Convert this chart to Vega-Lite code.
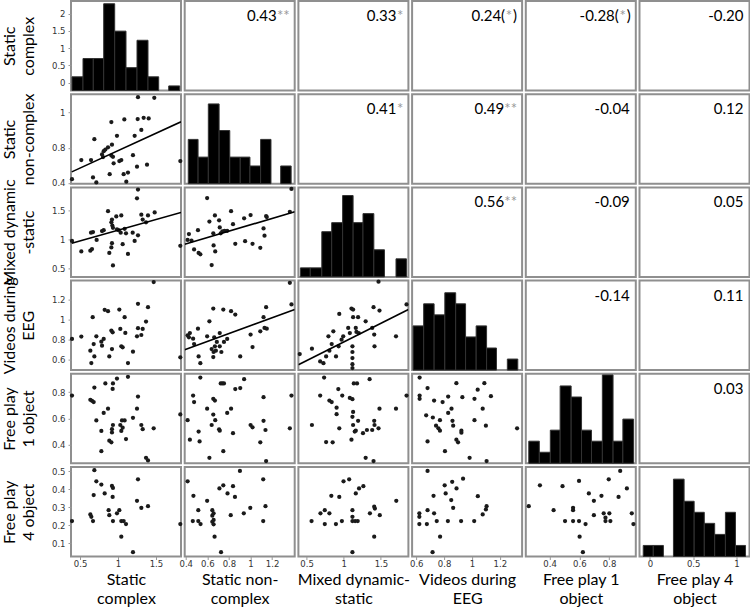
{
"$schema": "https://vega.github.io/schema/vega-lite/v6.json",
"padding": {"left": 0, "top": 0, "right": 0, "bottom": 0},
"background": "white",
"config": {
  "view": {"stroke": "#8f8f8f", "strokeWidth": 2},
  "axis": {"labelFont": "DejaVu Sans", "labelFontSize": 8.5, "labelColor": "#333", "tickColor": "#999", "tickSize": 3, "domain": false, "grid": false, "titleFont": "Lato", "titleFontSize": 16, "titleFontWeight": "normal", "titleColor": "#000", "labelOverlap": false, "titleLineHeight": 19},
  "axisX": {"labelPadding": 0, "titlePadding": 3},
  "axisY": {"labelPadding": 3, "titlePadding": 15},
  "circle": {"size": 18, "color": "#1a1a1a", "opacity": 1}
},
"datasets": {
"hist": [
{"p":"r1c1","x0":0.393,"x1":0.538,"n":3},{"p":"r1c1","x0":0.538,"x1":0.674,"n":7},{"p":"r1c1","x0":0.674,"x1":0.811,"n":7},{"p":"r1c1","x0":0.811,"x1":0.956,"n":19},{"p":"r1c1","x0":0.956,"x1":1.105,"n":13},{"p":"r1c1","x0":1.105,"x1":1.25,"n":5},{"p":"r1c1","x0":1.25,"x1":1.395,"n":11},{"p":"r1c1","x0":1.395,"x1":1.536,"n":3},{"p":"r1c1","x0":1.668,"x1":1.813,"n":1},
{"p":"r2c2","x0":0.423,"x1":0.514,"n":5},{"p":"r2c2","x0":0.514,"x1":0.609,"n":3},{"p":"r2c2","x0":0.609,"x1":0.709,"n":9},{"p":"r2c2","x0":0.709,"x1":0.808,"n":6},{"p":"r2c2","x0":0.808,"x1":0.905,"n":3},{"p":"r2c2","x0":0.905,"x1":0.995,"n":3},{"p":"r2c2","x0":0.995,"x1":1.094,"n":2},{"p":"r2c2","x0":1.094,"x1":1.19,"n":5},{"p":"r2c2","x0":1.28,"x1":1.377,"n":2},
{"p":"r3c3","x0":0.417,"x1":0.55,"n":1},{"p":"r3c3","x0":0.55,"x1":0.705,"n":1},{"p":"r3c3","x0":0.705,"x1":0.838,"n":5},{"p":"r3c3","x0":0.838,"x1":0.985,"n":6},{"p":"r3c3","x0":0.985,"x1":1.126,"n":9},{"p":"r3c3","x0":1.126,"x1":1.259,"n":6},{"p":"r3c3","x0":1.259,"x1":1.405,"n":7},{"p":"r3c3","x0":1.405,"x1":1.548,"n":3},{"p":"r3c3","x0":1.703,"x1":1.844,"n":2},
{"p":"r4c4","x0":0.577,"x1":0.653,"n":4},{"p":"r4c4","x0":0.653,"x1":0.728,"n":6},{"p":"r4c4","x0":0.728,"x1":0.805,"n":5},{"p":"r4c4","x0":0.805,"x1":0.883,"n":7},{"p":"r4c4","x0":0.883,"x1":0.954,"n":6},{"p":"r4c4","x0":0.954,"x1":1.03,"n":3},{"p":"r4c4","x0":1.03,"x1":1.105,"n":4},{"p":"r4c4","x0":1.105,"x1":1.176,"n":2},{"p":"r4c4","x0":1.254,"x1":1.329,"n":1},
{"p":"r5c5","x0":0.26,"x1":0.331,"n":2},{"p":"r5c5","x0":0.331,"x1":0.405,"n":1},{"p":"r5c5","x0":0.405,"x1":0.471,"n":3},{"p":"r5c5","x0":0.471,"x1":0.545,"n":7},{"p":"r5c5","x0":0.545,"x1":0.615,"n":6},{"p":"r5c5","x0":0.615,"x1":0.682,"n":3},{"p":"r5c5","x0":0.682,"x1":0.755,"n":2},{"p":"r5c5","x0":0.755,"x1":0.827,"n":8},{"p":"r5c5","x0":0.827,"x1":0.893,"n":2},{"p":"r5c5","x0":0.893,"x1":0.965,"n":4},
{"p":"r6c6","x0":-0.077,"x1":0.039,"n":1},{"p":"r6c6","x0":0.039,"x1":0.156,"n":1},{"p":"r6c6","x0":0.272,"x1":0.395,"n":7},{"p":"r6c6","x0":0.395,"x1":0.511,"n":5},{"p":"r6c6","x0":0.511,"x1":0.628,"n":4},{"p":"r6c6","x0":0.628,"x1":0.748,"n":3},{"p":"r6c6","x0":0.748,"x1":0.872,"n":2},{"p":"r6c6","x0":0.872,"x1":0.988,"n":4},{"p":"r6c6","x0":0.988,"x1":1.104,"n":1}
],
"lines": [
{"p":"r2c1","x":0.39,"y":0.525},{"p":"r2c1","x":1.83,"y":1.096},
{"p":"r3c1","x":0.39,"y":0.934},{"p":"r3c1","x":1.83,"y":1.466},
{"p":"r3c2","x":0.39,"y":0.915},{"p":"r3c2","x":1.41,"y":1.478},
{"p":"r4c2","x":0.39,"y":0.695},{"p":"r4c2","x":1.41,"y":1.099},
{"p":"r4c3","x":0.39,"y":0.544},{"p":"r4c3","x":1.87,"y":1.1}
],
"corr": [
{"p":"r1c2","num":"0.43","star":"**","close":""},{"p":"r1c3","num":"0.33","star":"*","close":""},{"p":"r1c4","num":"0.24(","star":"*","close":")"},{"p":"r1c5","num":"-0.28(","star":"*","close":")"},{"p":"r1c6","num":"-0.20","star":"","close":""},
{"p":"r2c3","num":"0.41","star":"*","close":""},{"p":"r2c4","num":"0.49","star":"**","close":""},{"p":"r2c5","num":"-0.04","star":"","close":""},{"p":"r2c6","num":"0.12","star":"","close":""},
{"p":"r3c4","num":"0.56","star":"**","close":""},{"p":"r3c5","num":"-0.09","star":"","close":""},{"p":"r3c6","num":"0.05","star":"","close":""},
{"p":"r4c5","num":"-0.14","star":"","close":""},{"p":"r4c6","num":"0.11","star":"","close":""},
{"p":"r5c6","num":"0.03","star":"","close":""}
],
"pts": [
{"p":"r2c1","x":0.393,"y":0.442},{"p":"r2c1","x":0.516,"y":0.659},{"p":"r2c1","x":0.644,"y":0.659},{"p":"r2c1","x":0.688,"y":0.898},{"p":"r2c1","x":0.67,"y":0.461},{"p":"r2c1","x":0.714,"y":0.405},{"p":"r2c1","x":0.789,"y":0.723},{"p":"r2c1","x":0.811,"y":0.76},{"p":"r2c1","x":0.833,"y":0.779},{"p":"r2c1","x":0.868,"y":0.805},{"p":"r2c1","x":0.912,"y":1.092},{"p":"r2c1","x":0.92,"y":0.835},{"p":"r2c1","x":0.912,"y":0.711},{"p":"r2c1","x":0.933,"y":0.696},{"p":"r2c1","x":0.942,"y":0.622},{"p":"r2c1","x":0.986,"y":0.936},{"p":"r2c1","x":1.017,"y":0.648},{"p":"r2c1","x":1.043,"y":0.659},{"p":"r2c1","x":1.083,"y":1.122},{"p":"r2c1","x":1.074,"y":0.498},{"p":"r2c1","x":0.89,"y":0.498},{"p":"r2c1","x":1.109,"y":0.413},{"p":"r2c1","x":1.131,"y":0.517},{"p":"r2c1","x":1.197,"y":0.715},{"p":"r2c1","x":1.219,"y":0.936},{"p":"r2c1","x":1.25,"y":0.584},{"p":"r2c1","x":1.259,"y":1.126},{"p":"r2c1","x":1.263,"y":1.376},{"p":"r2c1","x":1.307,"y":1.003},{"p":"r2c1","x":1.338,"y":1.141},{"p":"r2c1","x":1.382,"y":0.607},{"p":"r2c1","x":1.404,"y":1.134},{"p":"r2c1","x":1.478,"y":1.369},{"p":"r2c1","x":1.821,"y":0.648},{"p":"r2c1","x":0.802,"y":0.693},
{"p":"r3c1","x":0.393,"y":0.973},{"p":"r3c1","x":0.516,"y":0.792},{"p":"r3c1","x":0.635,"y":0.803},{"p":"r3c1","x":0.657,"y":0.832},{"p":"r3c1","x":0.644,"y":1.115},{"p":"r3c1","x":0.67,"y":1.126},{"p":"r3c1","x":0.718,"y":0.99},{"p":"r3c1","x":0.789,"y":1.143},{"p":"r3c1","x":0.811,"y":1.16},{"p":"r3c1","x":0.868,"y":1.489},{"p":"r3c1","x":0.885,"y":0.764},{"p":"r3c1","x":0.912,"y":0.86},{"p":"r3c1","x":0.92,"y":0.934},{"p":"r3c1","x":0.912,"y":1.296},{"p":"r3c1","x":0.92,"y":1.342},{"p":"r3c1","x":0.925,"y":1.24},{"p":"r3c1","x":0.933,"y":1.2},{"p":"r3c1","x":0.933,"y":0.548},{"p":"r3c1","x":0.977,"y":1.398},{"p":"r3c1","x":1.043,"y":1.415},{"p":"r3c1","x":1.008,"y":1.16},{"p":"r3c1","x":1.035,"y":1.115},{"p":"r3c1","x":1.061,"y":0.917},{"p":"r3c1","x":1.087,"y":1.183},{"p":"r3c1","x":1.105,"y":1.104},{"p":"r3c1","x":1.131,"y":0.747},{"p":"r3c1","x":1.193,"y":1.115},{"p":"r3c1","x":1.219,"y":0.973},{"p":"r3c1","x":1.263,"y":1.07},{"p":"r3c1","x":1.25,"y":1.71},{"p":"r3c1","x":1.263,"y":1.863},{"p":"r3c1","x":1.307,"y":1.427},{"p":"r3c1","x":1.325,"y":1.342},{"p":"r3c1","x":1.369,"y":1.296},{"p":"r3c1","x":1.395,"y":1.415},{"p":"r3c1","x":1.483,"y":1.466},{"p":"r3c1","x":1.821,"y":0.888},{"p":"r3c1","x":0.986,"y":1.172},
{"p":"r4c1","x":0.393,"y":0.803},{"p":"r4c1","x":0.516,"y":0.827},{"p":"r4c1","x":0.635,"y":0.685},{"p":"r4c1","x":0.648,"y":0.561},{"p":"r4c1","x":0.679,"y":0.752},{"p":"r4c1","x":0.688,"y":0.628},{"p":"r4c1","x":0.666,"y":1.022},{"p":"r4c1","x":0.714,"y":0.83},{"p":"r4c1","x":0.78,"y":0.776},{"p":"r4c1","x":0.789,"y":0.735},{"p":"r4c1","x":0.811,"y":0.803},{"p":"r4c1","x":0.824,"y":1.096},{"p":"r4c1","x":0.868,"y":1.082},{"p":"r4c1","x":0.885,"y":0.628},{"p":"r4c1","x":0.912,"y":0.887},{"p":"r4c1","x":0.929,"y":0.87},{"p":"r4c1","x":0.92,"y":0.702},{"p":"r4c1","x":1.017,"y":1.099},{"p":"r4c1","x":1.03,"y":0.904},{"p":"r4c1","x":1.043,"y":0.729},{"p":"r4c1","x":1.061,"y":0.719},{"p":"r4c1","x":1.087,"y":1.022},{"p":"r4c1","x":1.096,"y":0.864},{"p":"r4c1","x":1.131,"y":0.561},{"p":"r4c1","x":1.197,"y":0.675},{"p":"r4c1","x":1.25,"y":0.83},{"p":"r4c1","x":1.263,"y":1.157},{"p":"r4c1","x":1.263,"y":0.911},{"p":"r4c1","x":1.307,"y":0.843},{"p":"r4c1","x":1.325,"y":0.904},{"p":"r4c1","x":1.369,"y":0.978},{"p":"r4c1","x":1.395,"y":1.123},{"p":"r4c1","x":1.47,"y":1.375},{"p":"r4c1","x":1.821,"y":0.618},
{"p":"r5c1","x":0.393,"y":0.775},{"p":"r5c1","x":0.635,"y":0.742},{"p":"r5c1","x":0.657,"y":0.735},{"p":"r5c1","x":0.679,"y":0.725},{"p":"r5c1","x":0.688,"y":0.835},{"p":"r5c1","x":0.714,"y":0.586},{"p":"r5c1","x":0.78,"y":0.506},{"p":"r5c1","x":0.78,"y":0.352},{"p":"r5c1","x":0.811,"y":0.643},{"p":"r5c1","x":0.833,"y":0.867},{"p":"r5c1","x":0.868,"y":0.675},{"p":"r5c1","x":0.885,"y":0.432},{"p":"r5c1","x":0.912,"y":0.419},{"p":"r5c1","x":0.92,"y":0.494},{"p":"r5c1","x":0.92,"y":0.519},{"p":"r5c1","x":0.929,"y":0.825},{"p":"r5c1","x":0.933,"y":0.551},{"p":"r5c1","x":0.933,"y":0.867},{"p":"r5c1","x":0.986,"y":0.904},{"p":"r5c1","x":1.03,"y":0.551},{"p":"r5c1","x":1.043,"y":0.506},{"p":"r5c1","x":1.052,"y":0.586},{"p":"r5c1","x":1.061,"y":0.531},{"p":"r5c1","x":1.087,"y":0.586},{"p":"r5c1","x":1.105,"y":0.444},{"p":"r5c1","x":1.131,"y":0.917},{"p":"r5c1","x":1.197,"y":0.606},{"p":"r5c1","x":1.25,"y":0.675},{"p":"r5c1","x":1.263,"y":0.767},{"p":"r5c1","x":1.307,"y":0.551},{"p":"r5c1","x":1.325,"y":0.519},{"p":"r5c1","x":1.369,"y":0.302},{"p":"r5c1","x":1.395,"y":0.282},{"p":"r5c1","x":1.47,"y":0.526},{"p":"r5c1","x":1.821,"y":0.631},
{"p":"r6c1","x":0.393,"y":0.223},{"p":"r6c1","x":0.635,"y":0.26},{"p":"r6c1","x":0.648,"y":0.247},{"p":"r6c1","x":0.67,"y":0.223},{"p":"r6c1","x":0.688,"y":0.507},{"p":"r6c1","x":0.679,"y":0.368},{"p":"r6c1","x":0.714,"y":0.445},{"p":"r6c1","x":0.78,"y":0.427},{"p":"r6c1","x":0.824,"y":0.377},{"p":"r6c1","x":0.876,"y":0.284},{"p":"r6c1","x":0.885,"y":0.256},{"p":"r6c1","x":0.92,"y":0.419},{"p":"r6c1","x":0.933,"y":0.408},{"p":"r6c1","x":0.929,"y":0.358},{"p":"r6c1","x":0.933,"y":0.223},{"p":"r6c1","x":0.986,"y":0.266},{"p":"r6c1","x":1.017,"y":0.284},{"p":"r6c1","x":1.043,"y":0.223},{"p":"r6c1","x":1.074,"y":0.223},{"p":"r6c1","x":1.043,"y":0.136},{"p":"r6c1","x":1.105,"y":0.206},{"p":"r6c1","x":1.197,"y":0.049},{"p":"r6c1","x":1.25,"y":0.336},{"p":"r6c1","x":1.263,"y":0.456},{"p":"r6c1","x":1.307,"y":0.297},{"p":"r6c1","x":1.395,"y":0.306},{"p":"r6c1","x":1.821,"y":0.206},
{"p":"r3c2","x":0.417,"y":0.99},{"p":"r3c2","x":0.453,"y":0.979},{"p":"r3c2","x":0.429,"y":1.092},{"p":"r3c2","x":0.477,"y":0.826},{"p":"r3c2","x":0.513,"y":1.16},{"p":"r3c2","x":0.519,"y":0.764},{"p":"r3c2","x":0.535,"y":0.741},{"p":"r3c2","x":0.598,"y":1.716},{"p":"r3c2","x":0.619,"y":1.308},{"p":"r3c2","x":0.64,"y":0.554},{"p":"r3c2","x":0.655,"y":1.104},{"p":"r3c2","x":0.658,"y":0.894},{"p":"r3c2","x":0.67,"y":1.415},{"p":"r3c2","x":0.673,"y":0.792},{"p":"r3c2","x":0.709,"y":1.33},{"p":"r3c2","x":0.715,"y":1.206},{"p":"r3c2","x":0.724,"y":1.104},{"p":"r3c2","x":0.739,"y":1.138},{"p":"r3c2","x":0.76,"y":1.149},{"p":"r3c2","x":0.784,"y":1.149},{"p":"r3c2","x":0.82,"y":1.489},{"p":"r3c2","x":0.838,"y":1.262},{"p":"r3c2","x":0.859,"y":0.922},{"p":"r3c2","x":0.941,"y":1.364},{"p":"r3c2","x":0.95,"y":0.968},{"p":"r3c2","x":1.001,"y":1.421},{"p":"r3c2","x":1.019,"y":0.922},{"p":"r3c2","x":1.091,"y":0.854},{"p":"r3c2","x":1.121,"y":1.189},{"p":"r3c2","x":1.13,"y":1.064},{"p":"r3c2","x":1.145,"y":1.404},{"p":"r3c2","x":1.151,"y":1.387},{"p":"r3c2","x":1.365,"y":1.478},{"p":"r3c2","x":1.38,"y":1.874},
{"p":"r4c2","x":0.417,"y":0.84},{"p":"r4c2","x":0.438,"y":0.863},{"p":"r4c2","x":0.429,"y":0.82},{"p":"r4c2","x":0.468,"y":0.806},{"p":"r4c2","x":0.477,"y":0.752},{"p":"r4c2","x":0.513,"y":0.907},{"p":"r4c2","x":0.519,"y":0.628},{"p":"r4c2","x":0.535,"y":0.56},{"p":"r4c2","x":0.598,"y":0.83},{"p":"r4c2","x":0.619,"y":0.981},{"p":"r4c2","x":0.64,"y":0.702},{"p":"r4c2","x":0.655,"y":1.109},{"p":"r4c2","x":0.655,"y":0.621},{"p":"r4c2","x":0.658,"y":0.672},{"p":"r4c2","x":0.664,"y":0.82},{"p":"r4c2","x":0.67,"y":0.729},{"p":"r4c2","x":0.679,"y":0.685},{"p":"r4c2","x":0.688,"y":0.773},{"p":"r4c2","x":0.715,"y":0.863},{"p":"r4c2","x":0.715,"y":0.729},{"p":"r4c2","x":0.73,"y":0.672},{"p":"r4c2","x":0.748,"y":1.099},{"p":"r4c2","x":0.754,"y":0.773},{"p":"r4c2","x":0.784,"y":0.803},{"p":"r4c2","x":0.82,"y":1.082},{"p":"r4c2","x":0.859,"y":1.049},{"p":"r4c2","x":0.905,"y":0.628},{"p":"r4c2","x":1.001,"y":0.847},{"p":"r4c2","x":1.019,"y":0.722},{"p":"r4c2","x":1.091,"y":0.88},{"p":"r4c2","x":1.121,"y":1.022},{"p":"r4c2","x":1.13,"y":0.914},{"p":"r4c2","x":1.145,"y":1.123},{"p":"r4c2","x":1.151,"y":0.907},{"p":"r4c2","x":1.365,"y":1.368},{"p":"r4c2","x":1.38,"y":1.15},
{"p":"r4c3","x":0.408,"y":0.651},{"p":"r4c3","x":0.572,"y":0.705},{"p":"r4c3","x":0.683,"y":0.577},{"p":"r4c3","x":0.727,"y":0.56},{"p":"r4c3","x":0.763,"y":0.628},{"p":"r4c3","x":0.794,"y":0.83},{"p":"r4c3","x":0.807,"y":0.685},{"p":"r4c3","x":0.86,"y":0.88},{"p":"r4c3","x":0.838,"y":0.752},{"p":"r4c3","x":0.896,"y":0.628},{"p":"r4c3","x":0.931,"y":0.729},{"p":"r4c3","x":0.94,"y":1.055},{"p":"r4c3","x":0.971,"y":0.796},{"p":"r4c3","x":0.993,"y":0.83},{"p":"r4c3","x":1.06,"y":0.914},{"p":"r4c3","x":1.082,"y":0.863},{"p":"r4c3","x":1.104,"y":1.109},{"p":"r4c3","x":1.126,"y":1.099},{"p":"r4c3","x":1.126,"y":1.022},{"p":"r4c3","x":1.117,"y":0.729},{"p":"r4c3","x":1.117,"y":0.672},{"p":"r4c3","x":1.117,"y":0.611},{"p":"r4c3","x":1.117,"y":0.55},{"p":"r4c3","x":1.117,"y":0.51},{"p":"r4c3","x":1.162,"y":0.914},{"p":"r4c3","x":1.171,"y":0.874},{"p":"r4c3","x":1.193,"y":1.022},{"p":"r4c3","x":1.202,"y":0.863},{"p":"r4c3","x":1.295,"y":0.981},{"p":"r4c3","x":1.383,"y":0.914},{"p":"r4c3","x":1.401,"y":1.123},{"p":"r4c3","x":1.41,"y":0.847},{"p":"r4c3","x":1.414,"y":0.729},{"p":"r4c3","x":1.468,"y":1.379},{"p":"r4c3","x":1.481,"y":1.089},{"p":"r4c3","x":1.703,"y":0.83},{"p":"r4c3","x":1.845,"y":1.15},
{"p":"r5c2","x":0.417,"y":0.588},{"p":"r5c2","x":0.438,"y":0.439},{"p":"r5c2","x":0.468,"y":0.775},{"p":"r5c2","x":0.477,"y":0.725},{"p":"r5c2","x":0.519,"y":0.501},{"p":"r5c2","x":0.528,"y":0.426},{"p":"r5c2","x":0.535,"y":0.911},{"p":"r5c2","x":0.598,"y":0.675},{"p":"r5c2","x":0.619,"y":0.302},{"p":"r5c2","x":0.64,"y":0.551},{"p":"r5c2","x":0.655,"y":0.63},{"p":"r5c2","x":0.655,"y":0.75},{"p":"r5c2","x":0.67,"y":0.737},{"p":"r5c2","x":0.673,"y":0.588},{"p":"r5c2","x":0.709,"y":0.518},{"p":"r5c2","x":0.715,"y":0.508},{"p":"r5c2","x":0.724,"y":0.867},{"p":"r5c2","x":0.739,"y":0.867},{"p":"r5c2","x":0.748,"y":0.352},{"p":"r5c2","x":0.754,"y":0.867},{"p":"r5c2","x":0.784,"y":0.643},{"p":"r5c2","x":0.82,"y":0.675},{"p":"r5c2","x":0.838,"y":0.489},{"p":"r5c2","x":0.859,"y":0.824},{"p":"r5c2","x":0.905,"y":0.832},{"p":"r5c2","x":0.941,"y":0.899},{"p":"r5c2","x":1.001,"y":0.551},{"p":"r5c2","x":1.019,"y":0.533},{"p":"r5c2","x":1.091,"y":0.419},{"p":"r5c2","x":1.121,"y":0.762},{"p":"r5c2","x":1.121,"y":0.583},{"p":"r5c2","x":1.139,"y":0.513},{"p":"r5c2","x":1.145,"y":0.277},{"p":"r5c2","x":1.365,"y":0.526},{"p":"r5c2","x":1.38,"y":0.775},
{"p":"r5c3","x":0.572,"y":0.551},{"p":"r5c3","x":0.736,"y":0.911},{"p":"r5c3","x":0.683,"y":0.775},{"p":"r5c3","x":0.807,"y":0.737},{"p":"r5c3","x":0.838,"y":0.725},{"p":"r5c3","x":0.904,"y":0.633},{"p":"r5c3","x":0.927,"y":0.824},{"p":"r5c3","x":0.98,"y":0.775},{"p":"r5c3","x":1.082,"y":0.757},{"p":"r5c3","x":1.117,"y":0.747},{"p":"r5c3","x":0.94,"y":0.526},{"p":"r5c3","x":0.763,"y":0.421},{"p":"r5c3","x":0.851,"y":0.419},{"p":"r5c3","x":0.904,"y":0.683},{"p":"r5c3","x":1.104,"y":0.439},{"p":"r5c3","x":1.117,"y":0.613},{"p":"r5c3","x":1.126,"y":0.65},{"p":"r5c3","x":1.135,"y":0.867},{"p":"r5c3","x":1.179,"y":0.867},{"p":"r5c3","x":1.162,"y":0.508},{"p":"r5c3","x":1.126,"y":0.551},{"p":"r5c3","x":1.148,"y":0.501},{"p":"r5c3","x":1.193,"y":0.583},{"p":"r5c3","x":1.259,"y":0.489},{"p":"r5c3","x":1.312,"y":0.513},{"p":"r5c3","x":1.348,"y":0.899},{"p":"r5c3","x":1.383,"y":0.513},{"p":"r5c3","x":1.41,"y":0.583},{"p":"r5c3","x":1.414,"y":0.551},{"p":"r5c3","x":1.468,"y":0.526},{"p":"r5c3","x":1.481,"y":0.675},{"p":"r5c3","x":1.295,"y":0.302},{"p":"r5c3","x":1.401,"y":0.277},{"p":"r5c3","x":1.703,"y":0.675},{"p":"r5c3","x":1.845,"y":0.775},
{"p":"r5c4","x":0.624,"y":0.911},{"p":"r5c4","x":0.681,"y":0.832},{"p":"r5c4","x":0.624,"y":0.775},{"p":"r5c4","x":0.624,"y":0.75},{"p":"r5c4","x":0.728,"y":0.737},{"p":"r5c4","x":0.789,"y":0.725},{"p":"r5c4","x":0.829,"y":0.767},{"p":"r5c4","x":0.888,"y":0.869},{"p":"r5c4","x":0.931,"y":0.762},{"p":"r5c4","x":1.018,"y":0.75},{"p":"r5c4","x":1.041,"y":0.819},{"p":"r5c4","x":1.089,"y":0.869},{"p":"r5c4","x":1.136,"y":0.77},{"p":"r5c4","x":1.077,"y":0.675},{"p":"r5c4","x":0.853,"y":0.675},{"p":"r5c4","x":0.829,"y":0.643},{"p":"r5c4","x":0.671,"y":0.625},{"p":"r5c4","x":0.719,"y":0.608},{"p":"r5c4","x":0.77,"y":0.588},{"p":"r5c4","x":0.742,"y":0.546},{"p":"r5c4","x":0.759,"y":0.526},{"p":"r5c4","x":0.77,"y":0.508},{"p":"r5c4","x":0.86,"y":0.583},{"p":"r5c4","x":0.865,"y":0.546},{"p":"r5c4","x":0.924,"y":0.508},{"p":"r5c4","x":0.924,"y":0.493},{"p":"r5c4","x":1.018,"y":0.588},{"p":"r5c4","x":1.1,"y":0.546},{"p":"r5c4","x":1.324,"y":0.526},{"p":"r5c4","x":0.681,"y":0.426},{"p":"r5c4","x":0.888,"y":0.439},{"p":"r5c4","x":0.9,"y":0.419},{"p":"r5c4","x":0.806,"y":0.352},{"p":"r5c4","x":0.983,"y":0.302},{"p":"r5c4","x":1.105,"y":0.277},
{"p":"r6c2","x":0.417,"y":0.445},{"p":"r6c2","x":0.471,"y":0.364},{"p":"r6c2","x":0.516,"y":0.284},{"p":"r6c2","x":0.465,"y":0.223},{"p":"r6c2","x":0.516,"y":0.223},{"p":"r6c2","x":0.537,"y":0.206},{"p":"r6c2","x":0.598,"y":0.336},{"p":"r6c2","x":0.646,"y":0.284},{"p":"r6c2","x":0.658,"y":0.266},{"p":"r6c2","x":0.646,"y":0.253},{"p":"r6c2","x":0.658,"y":0.229},{"p":"r6c2","x":0.646,"y":0.219},{"p":"r6c2","x":0.658,"y":0.205},{"p":"r6c2","x":0.667,"y":0.136},{"p":"r6c2","x":0.727,"y":0.049},{"p":"r6c2","x":0.712,"y":0.405},{"p":"r6c2","x":0.748,"y":0.423},{"p":"r6c2","x":0.787,"y":0.377},{"p":"r6c2","x":0.838,"y":0.418},{"p":"r6c2","x":0.856,"y":0.358},{"p":"r6c2","x":0.817,"y":0.256},{"p":"r6c2","x":0.902,"y":0.503},{"p":"r6c2","x":0.938,"y":0.266},{"p":"r6c2","x":0.998,"y":0.297},{"p":"r6c2","x":1.118,"y":0.456},{"p":"r6c2","x":1.118,"y":0.223},{"p":"r6c2","x":1.139,"y":0.306},
{"p":"r6c3","x":0.567,"y":0.223},{"p":"r6c3","x":0.687,"y":0.266},{"p":"r6c3","x":0.745,"y":0.284},{"p":"r6c3","x":0.807,"y":0.266},{"p":"r6c3","x":0.745,"y":0.206},{"p":"r6c3","x":0.833,"y":0.364},{"p":"r6c3","x":0.895,"y":0.206},{"p":"r6c3","x":0.94,"y":0.358},{"p":"r6c3","x":0.975,"y":0.223},{"p":"r6c3","x":0.997,"y":0.445},{"p":"r6c3","x":1.073,"y":0.456},{"p":"r6c3","x":1.117,"y":0.223},{"p":"r6c3","x":1.117,"y":0.284},{"p":"r6c3","x":1.117,"y":0.247},{"p":"r6c3","x":1.153,"y":0.223},{"p":"r6c3","x":1.162,"y":0.377},{"p":"r6c3","x":1.188,"y":0.223},{"p":"r6c3","x":1.206,"y":0.405},{"p":"r6c3","x":1.264,"y":0.418},{"p":"r6c3","x":1.352,"y":0.266},{"p":"r6c3","x":1.41,"y":0.303},{"p":"r6c3","x":1.419,"y":0.293},{"p":"r6c3","x":1.41,"y":0.136},{"p":"r6c3","x":1.485,"y":0.256},{"p":"r6c3","x":1.707,"y":0.336},{"p":"r6c3","x":1.117,"y":0.049},
{"p":"r6c4","x":0.681,"y":0.503},{"p":"r6c4","x":0.622,"y":0.266},{"p":"r6c4","x":0.622,"y":0.247},{"p":"r6c4","x":0.622,"y":0.206},{"p":"r6c4","x":0.676,"y":0.206},{"p":"r6c4","x":0.681,"y":0.284},{"p":"r6c4","x":0.728,"y":0.266},{"p":"r6c4","x":0.747,"y":0.223},{"p":"r6c4","x":0.724,"y":0.364},{"p":"r6c4","x":0.771,"y":0.136},{"p":"r6c4","x":0.804,"y":0.423},{"p":"r6c4","x":0.811,"y":0.377},{"p":"r6c4","x":0.827,"y":0.223},{"p":"r6c4","x":0.851,"y":0.34},{"p":"r6c4","x":0.858,"y":0.442},{"p":"r6c4","x":0.865,"y":0.297},{"p":"r6c4","x":0.889,"y":0.405},{"p":"r6c4","x":0.922,"y":0.223},{"p":"r6c4","x":0.936,"y":0.46},{"p":"r6c4","x":0.717,"y":0.049},{"p":"r6c4","x":1.016,"y":0.223},{"p":"r6c4","x":1.042,"y":0.362},{"p":"r6c4","x":1.077,"y":0.26},{"p":"r6c4","x":1.1,"y":0.288},{"p":"r6c4","x":1.105,"y":0.306},
{"p":"r6c5","x":0.26,"y":0.306},{"p":"r6c5","x":0.335,"y":0.423},{"p":"r6c5","x":0.427,"y":0.284},{"p":"r6c5","x":0.487,"y":0.418},{"p":"r6c5","x":0.504,"y":0.223},{"p":"r6c5","x":0.558,"y":0.297},{"p":"r6c5","x":0.558,"y":0.284},{"p":"r6c5","x":0.558,"y":0.223},{"p":"r6c5","x":0.598,"y":0.223},{"p":"r6c5","x":0.598,"y":0.447},{"p":"r6c5","x":0.602,"y":0.136},{"p":"r6c5","x":0.624,"y":0.049},{"p":"r6c5","x":0.642,"y":0.206},{"p":"r6c5","x":0.664,"y":0.377},{"p":"r6c5","x":0.698,"y":0.336},{"p":"r6c5","x":0.698,"y":0.256},{"p":"r6c5","x":0.749,"y":0.364},{"p":"r6c5","x":0.764,"y":0.266},{"p":"r6c5","x":0.776,"y":0.242},{"p":"r6c5","x":0.776,"y":0.223},{"p":"r6c5","x":0.802,"y":0.266},{"p":"r6c5","x":0.809,"y":0.223},{"p":"r6c5","x":0.798,"y":0.456},{"p":"r6c5","x":0.864,"y":0.358},{"p":"r6c5","x":0.875,"y":0.503},{"p":"r6c5","x":0.92,"y":0.405},{"p":"r6c5","x":0.953,"y":0.266},{"p":"r6c5","x":0.964,"y":0.206}
]
},
"columns": 6,
"spacing": {"row": 3.2, "column": 3.7},
"bounds": "flush",
"concat": [
{"width":110,"height":89.5,"layer":[
 {"data":{"name":"hist"},"transform":[{"filter":"datum.p=='r1c1'"}],"mark":{"type":"rect","color":"#000","stroke":"#333","strokeWidth":1},"encoding":{"x":{"field":"x0","type":"quantitative","scale":{"domain":[0.38,1.83],"nice":false,"zero":false},"axis":null},"x2":{"field":"x1"},"y":{"field":"n","type":"quantitative","scale":{"domain":[0,19.6],"nice":false},"axis":null},"y2":{"datum":0}}},
 {"data":{"name":"hist"},"transform":[{"filter":"datum.p=='r1c1'"}],"mark":{"type":"point","opacity":0},"encoding":{"y":{"datum":1,"type":"quantitative","scale":{"domain":[-0.23,2.37],"nice":false,"zero":false},"axis":{"orient":"left","title":["Static","complex"],"values":[0,0.5,1,1.5,2],"format":"~g"}}}}
],"resolve":{"scale":{"y":"independent"}}},
{"width":110,"height":89.5,"data":{"name":"corr"},"transform":[{"filter":"datum.p=='r1c2'"}],"layer":[
 {"mark":{"type":"text","align":"right","baseline":"middle","font":"Lato","fontSize":15,"color":"#000","dx":-18},"encoding":{"text":{"field":"num"},"x":{"value":"width"},"y":{"value":15}}},
 {"mark":{"type":"text","align":"right","baseline":"middle","font":"Lato","fontSize":15,"color":"#999","dx":-5},"encoding":{"text":{"field":"star"},"x":{"value":"width"},"y":{"value":15}}}]},
{"width":110,"height":89.5,"data":{"name":"corr"},"transform":[{"filter":"datum.p=='r1c3'"}],"layer":[
 {"mark":{"type":"text","align":"right","baseline":"middle","font":"Lato","fontSize":15,"color":"#000","dx":-12},"encoding":{"text":{"field":"num"},"x":{"value":"width"},"y":{"value":15}}},
 {"mark":{"type":"text","align":"right","baseline":"middle","font":"Lato","fontSize":15,"color":"#999","dx":-5},"encoding":{"text":{"field":"star"},"x":{"value":"width"},"y":{"value":15}}}]},
{"width":110,"height":89.5,"data":{"name":"corr"},"transform":[{"filter":"datum.p=='r1c4'"}],"layer":[
 {"mark":{"type":"text","align":"right","baseline":"middle","font":"Lato","fontSize":15,"color":"#000","dx":-17},"encoding":{"text":{"field":"num"},"x":{"value":"width"},"y":{"value":15}}},
 {"mark":{"type":"text","align":"right","baseline":"middle","font":"Lato","fontSize":15,"color":"#999","dx":-10},"encoding":{"text":{"field":"star"},"x":{"value":"width"},"y":{"value":15}}},
 {"mark":{"type":"text","align":"right","baseline":"middle","font":"Lato","fontSize":15,"color":"#000","dx":-5},"encoding":{"text":{"field":"close"},"x":{"value":"width"},"y":{"value":15}}}]},
{"width":110,"height":89.5,"data":{"name":"corr"},"transform":[{"filter":"datum.p=='r1c5'"}],"layer":[
 {"mark":{"type":"text","align":"right","baseline":"middle","font":"Lato","fontSize":15,"color":"#000","dx":-17},"encoding":{"text":{"field":"num"},"x":{"value":"width"},"y":{"value":15}}},
 {"mark":{"type":"text","align":"right","baseline":"middle","font":"Lato","fontSize":15,"color":"#999","dx":-10},"encoding":{"text":{"field":"star"},"x":{"value":"width"},"y":{"value":15}}},
 {"mark":{"type":"text","align":"right","baseline":"middle","font":"Lato","fontSize":15,"color":"#000","dx":-5},"encoding":{"text":{"field":"close"},"x":{"value":"width"},"y":{"value":15}}}]},
{"width":110,"height":89.5,"data":{"name":"corr"},"transform":[{"filter":"datum.p=='r1c6'"}],
 "mark":{"type":"text","align":"right","baseline":"middle","font":"Lato","fontSize":15,"color":"#000","dx":-6},"encoding":{"text":{"field":"num"},"x":{"value":"width"},"y":{"value":15}}},

{"width":110,"height":89.5,"layer":[
 {"data":{"name":"pts"},"transform":[{"filter":"datum.p=='r2c1'"}],"mark":{"type":"circle"},"encoding":{"x":{"field":"x","type":"quantitative","scale":{"domain":[0.38,1.83],"nice":false,"zero":false},"axis":null},"y":{"field":"y","type":"quantitative","scale":{"domain":[0.39,1.41],"nice":false,"zero":false},"axis":{"title":["Static","non-complex"],"values":[0.4,0.6,0.8,1,1.2],"format":"~g"}}}},
 {"data":{"name":"lines"},"transform":[{"filter":"datum.p=='r2c1'"}],"mark":{"type":"line","color":"#000","strokeWidth":1.6,"clip":true},"encoding":{"x":{"field":"x","type":"quantitative"},"y":{"field":"y","type":"quantitative"}}}]},
{"width":110,"height":89.5,"data":{"name":"hist"},"transform":[{"filter":"datum.p=='r2c2'"}],"mark":{"type":"rect","color":"#000","stroke":"#333","strokeWidth":1},"encoding":{"x":{"field":"x0","type":"quantitative","scale":{"domain":[0.39,1.41],"nice":false,"zero":false},"axis":null},"x2":{"field":"x1"},"y":{"field":"n","type":"quantitative","scale":{"domain":[0,10.1],"nice":false},"axis":null},"y2":{"datum":0}}},
{"width":110,"height":89.5,"data":{"name":"corr"},"transform":[{"filter":"datum.p=='r2c3'"}],"layer":[
 {"mark":{"type":"text","align":"right","baseline":"middle","font":"Lato","fontSize":15,"color":"#000","dx":-12},"encoding":{"text":{"field":"num"},"x":{"value":"width"},"y":{"value":15}}},
 {"mark":{"type":"text","align":"right","baseline":"middle","font":"Lato","fontSize":15,"color":"#999","dx":-5},"encoding":{"text":{"field":"star"},"x":{"value":"width"},"y":{"value":15}}}]},
{"width":110,"height":89.5,"data":{"name":"corr"},"transform":[{"filter":"datum.p=='r2c4'"}],"layer":[
 {"mark":{"type":"text","align":"right","baseline":"middle","font":"Lato","fontSize":15,"color":"#000","dx":-18},"encoding":{"text":{"field":"num"},"x":{"value":"width"},"y":{"value":15}}},
 {"mark":{"type":"text","align":"right","baseline":"middle","font":"Lato","fontSize":15,"color":"#999","dx":-5},"encoding":{"text":{"field":"star"},"x":{"value":"width"},"y":{"value":15}}}]},
{"width":110,"height":89.5,"data":{"name":"corr"},"transform":[{"filter":"datum.p=='r2c5'"}],
 "mark":{"type":"text","align":"right","baseline":"middle","font":"Lato","fontSize":15,"color":"#000","dx":-6},"encoding":{"text":{"field":"num"},"x":{"value":"width"},"y":{"value":15}}},
{"width":110,"height":89.5,"data":{"name":"corr"},"transform":[{"filter":"datum.p=='r2c6'"}],
 "mark":{"type":"text","align":"right","baseline":"middle","font":"Lato","fontSize":15,"color":"#000","dx":-6},"encoding":{"text":{"field":"num"},"x":{"value":"width"},"y":{"value":15}}},

{"width":110,"height":89.5,"layer":[
 {"data":{"name":"pts"},"transform":[{"filter":"datum.p=='r3c1'"}],"mark":{"type":"circle"},"encoding":{"x":{"field":"x","type":"quantitative","scale":{"domain":[0.38,1.83],"nice":false,"zero":false},"axis":null},"y":{"field":"y","type":"quantitative","scale":{"domain":[0.35,1.9],"nice":false,"zero":false},"axis":{"title":["Mixed dynamic","-static"],"values":[0.5,1,1.5],"format":"~g"}}}},
 {"data":{"name":"lines"},"transform":[{"filter":"datum.p=='r3c1'"}],"mark":{"type":"line","color":"#000","strokeWidth":1.6,"clip":true},"encoding":{"x":{"field":"x","type":"quantitative"},"y":{"field":"y","type":"quantitative"}}}]},
{"width":110,"height":89.5,"layer":[
 {"data":{"name":"pts"},"transform":[{"filter":"datum.p=='r3c2'"}],"mark":{"type":"circle"},"encoding":{"x":{"field":"x","type":"quantitative","scale":{"domain":[0.39,1.41],"nice":false,"zero":false},"axis":null},"y":{"field":"y","type":"quantitative","scale":{"domain":[0.35,1.9],"nice":false,"zero":false},"axis":null}}},
 {"data":{"name":"lines"},"transform":[{"filter":"datum.p=='r3c2'"}],"mark":{"type":"line","color":"#000","strokeWidth":1.6,"clip":true},"encoding":{"x":{"field":"x","type":"quantitative"},"y":{"field":"y","type":"quantitative"}}}]},
{"width":110,"height":89.5,"data":{"name":"hist"},"transform":[{"filter":"datum.p=='r3c3'"}],"mark":{"type":"rect","color":"#000","stroke":"#333","strokeWidth":1},"encoding":{"x":{"field":"x0","type":"quantitative","scale":{"domain":[0.39,1.87],"nice":false,"zero":false},"axis":null},"x2":{"field":"x1"},"y":{"field":"n","type":"quantitative","scale":{"domain":[0,9.9],"nice":false},"axis":null},"y2":{"datum":0}}},
{"width":110,"height":89.5,"data":{"name":"corr"},"transform":[{"filter":"datum.p=='r3c4'"}],"layer":[
 {"mark":{"type":"text","align":"right","baseline":"middle","font":"Lato","fontSize":15,"color":"#000","dx":-18},"encoding":{"text":{"field":"num"},"x":{"value":"width"},"y":{"value":15}}},
 {"mark":{"type":"text","align":"right","baseline":"middle","font":"Lato","fontSize":15,"color":"#999","dx":-5},"encoding":{"text":{"field":"star"},"x":{"value":"width"},"y":{"value":15}}}]},
{"width":110,"height":89.5,"data":{"name":"corr"},"transform":[{"filter":"datum.p=='r3c5'"}],
 "mark":{"type":"text","align":"right","baseline":"middle","font":"Lato","fontSize":15,"color":"#000","dx":-6},"encoding":{"text":{"field":"num"},"x":{"value":"width"},"y":{"value":15}}},
{"width":110,"height":89.5,"data":{"name":"corr"},"transform":[{"filter":"datum.p=='r3c6'"}],
 "mark":{"type":"text","align":"right","baseline":"middle","font":"Lato","fontSize":15,"color":"#000","dx":-6},"encoding":{"text":{"field":"num"},"x":{"value":"width"},"y":{"value":15}}},

{"width":110,"height":89.5,"data":{"name":"pts"},"transform":[{"filter":"datum.p=='r4c1'"}],"mark":{"type":"circle"},"encoding":{"x":{"field":"x","type":"quantitative","scale":{"domain":[0.38,1.83],"nice":false,"zero":false},"axis":null},"y":{"field":"y","type":"quantitative","scale":{"domain":[0.49,1.39],"nice":false,"zero":false},"axis":{"title":["Videos during","EEG"],"values":[0.6,0.8,1,1.2],"format":"~g"}}}},
{"width":110,"height":89.5,"layer":[
 {"data":{"name":"pts"},"transform":[{"filter":"datum.p=='r4c2'"}],"mark":{"type":"circle"},"encoding":{"x":{"field":"x","type":"quantitative","scale":{"domain":[0.39,1.41],"nice":false,"zero":false},"axis":null},"y":{"field":"y","type":"quantitative","scale":{"domain":[0.49,1.39],"nice":false,"zero":false},"axis":null}}},
 {"data":{"name":"lines"},"transform":[{"filter":"datum.p=='r4c2'"}],"mark":{"type":"line","color":"#000","strokeWidth":1.6,"clip":true},"encoding":{"x":{"field":"x","type":"quantitative"},"y":{"field":"y","type":"quantitative"}}}]},
{"width":110,"height":89.5,"layer":[
 {"data":{"name":"pts"},"transform":[{"filter":"datum.p=='r4c3'"}],"mark":{"type":"circle"},"encoding":{"x":{"field":"x","type":"quantitative","scale":{"domain":[0.39,1.87],"nice":false,"zero":false},"axis":null},"y":{"field":"y","type":"quantitative","scale":{"domain":[0.49,1.39],"nice":false,"zero":false},"axis":null}}},
 {"data":{"name":"lines"},"transform":[{"filter":"datum.p=='r4c3'"}],"mark":{"type":"line","color":"#000","strokeWidth":1.6,"clip":true},"encoding":{"x":{"field":"x","type":"quantitative"},"y":{"field":"y","type":"quantitative"}}}]},
{"width":110,"height":89.5,"data":{"name":"hist"},"transform":[{"filter":"datum.p=='r4c4'"}],"mark":{"type":"rect","color":"#000","stroke":"#333","strokeWidth":1},"encoding":{"x":{"field":"x0","type":"quantitative","scale":{"domain":[0.57,1.36],"nice":false,"zero":false},"axis":null},"x2":{"field":"x1"},"y":{"field":"n","type":"quantitative","scale":{"domain":[0,8.1],"nice":false},"axis":null},"y2":{"datum":0}}},
{"width":110,"height":89.5,"data":{"name":"corr"},"transform":[{"filter":"datum.p=='r4c5'"}],
 "mark":{"type":"text","align":"right","baseline":"middle","font":"Lato","fontSize":15,"color":"#000","dx":-6},"encoding":{"text":{"field":"num"},"x":{"value":"width"},"y":{"value":15}}},
{"width":110,"height":89.5,"data":{"name":"corr"},"transform":[{"filter":"datum.p=='r4c6'"}],
 "mark":{"type":"text","align":"right","baseline":"middle","font":"Lato","fontSize":15,"color":"#000","dx":-6},"encoding":{"text":{"field":"num"},"x":{"value":"width"},"y":{"value":15}}},

{"width":110,"height":89.5,"data":{"name":"pts"},"transform":[{"filter":"datum.p=='r5c1'"}],"mark":{"type":"circle"},"encoding":{"x":{"field":"x","type":"quantitative","scale":{"domain":[0.38,1.83],"nice":false,"zero":false},"axis":null},"y":{"field":"y","type":"quantitative","scale":{"domain":[0.26,0.94],"nice":false,"zero":false},"axis":{"title":["Free play","1 object"],"values":[0.4,0.6,0.8],"format":"~g"}}}},
{"width":110,"height":89.5,"data":{"name":"pts"},"transform":[{"filter":"datum.p=='r5c2'"}],"mark":{"type":"circle"},"encoding":{"x":{"field":"x","type":"quantitative","scale":{"domain":[0.39,1.41],"nice":false,"zero":false},"axis":null},"y":{"field":"y","type":"quantitative","scale":{"domain":[0.26,0.94],"nice":false,"zero":false},"axis":null}}},
{"width":110,"height":89.5,"data":{"name":"pts"},"transform":[{"filter":"datum.p=='r5c3'"}],"mark":{"type":"circle"},"encoding":{"x":{"field":"x","type":"quantitative","scale":{"domain":[0.39,1.87],"nice":false,"zero":false},"axis":null},"y":{"field":"y","type":"quantitative","scale":{"domain":[0.26,0.94],"nice":false,"zero":false},"axis":null}}},
{"width":110,"height":89.5,"data":{"name":"pts"},"transform":[{"filter":"datum.p=='r5c4'"}],"mark":{"type":"circle"},"encoding":{"x":{"field":"x","type":"quantitative","scale":{"domain":[0.57,1.36],"nice":false,"zero":false},"axis":null},"y":{"field":"y","type":"quantitative","scale":{"domain":[0.26,0.94],"nice":false,"zero":false},"axis":null}}},
{"width":110,"height":89.5,"data":{"name":"hist"},"transform":[{"filter":"datum.p=='r5c5'"}],"mark":{"type":"rect","color":"#000","stroke":"#333","strokeWidth":1},"encoding":{"x":{"field":"x0","type":"quantitative","scale":{"domain":[0.24,0.98],"nice":false,"zero":false},"axis":null},"x2":{"field":"x1"},"y":{"field":"n","type":"quantitative","scale":{"domain":[0,8.1],"nice":false},"axis":null},"y2":{"datum":0}}},
{"width":110,"height":89.5,"data":{"name":"corr"},"transform":[{"filter":"datum.p=='r5c6'"}],
 "mark":{"type":"text","align":"right","baseline":"middle","font":"Lato","fontSize":15,"color":"#000","dx":-6},"encoding":{"text":{"field":"num"},"x":{"value":"width"},"y":{"value":15}}},

{"width":110,"height":89.5,"data":{"name":"pts"},"transform":[{"filter":"datum.p=='r6c1'"}],"mark":{"type":"circle"},"encoding":{"x":{"field":"x","type":"quantitative","scale":{"domain":[0.38,1.83],"nice":false,"zero":false},"axis":{"title":["Static","complex"],"values":[0.5,1,1.5],"format":"~g"}},"y":{"field":"y","type":"quantitative","scale":{"domain":[0.025,0.525],"nice":false,"zero":false},"axis":{"title":["Free play","4 object"],"values":[0.1,0.2,0.3,0.4,0.5],"format":"~g"}}}},
{"width":110,"height":89.5,"data":{"name":"pts"},"transform":[{"filter":"datum.p=='r6c2'"}],"mark":{"type":"circle"},"encoding":{"x":{"field":"x","type":"quantitative","scale":{"domain":[0.39,1.41],"nice":false,"zero":false},"axis":{"title":["Static non-","complex"],"values":[0.4,0.6,0.8,1,1.2],"format":"~g"}},"y":{"field":"y","type":"quantitative","scale":{"domain":[0.025,0.525],"nice":false,"zero":false},"axis":null}}},
{"width":110,"height":89.5,"data":{"name":"pts"},"transform":[{"filter":"datum.p=='r6c3'"}],"mark":{"type":"circle"},"encoding":{"x":{"field":"x","type":"quantitative","scale":{"domain":[0.39,1.87],"nice":false,"zero":false},"axis":{"title":["Mixed dynamic-","static"],"values":[0.5,1,1.5],"format":"~g"}},"y":{"field":"y","type":"quantitative","scale":{"domain":[0.025,0.525],"nice":false,"zero":false},"axis":null}}},
{"width":110,"height":89.5,"data":{"name":"pts"},"transform":[{"filter":"datum.p=='r6c4'"}],"mark":{"type":"circle"},"encoding":{"x":{"field":"x","type":"quantitative","scale":{"domain":[0.57,1.36],"nice":false,"zero":false},"axis":{"title":["Videos during","EEG"],"values":[0.6,0.8,1,1.2],"format":"~g"}},"y":{"field":"y","type":"quantitative","scale":{"domain":[0.025,0.525],"nice":false,"zero":false},"axis":null}}},
{"width":110,"height":89.5,"data":{"name":"pts"},"transform":[{"filter":"datum.p=='r6c5'"}],"mark":{"type":"circle"},"encoding":{"x":{"field":"x","type":"quantitative","scale":{"domain":[0.24,0.98],"nice":false,"zero":false},"axis":{"title":["Free play 1","object"],"values":[0.4,0.6,0.8],"format":"~g"}},"y":{"field":"y","type":"quantitative","scale":{"domain":[0.025,0.525],"nice":false,"zero":false},"axis":null}}},
{"width":110,"height":89.5,"data":{"name":"hist"},"transform":[{"filter":"datum.p=='r6c6'"}],"mark":{"type":"rect","color":"#000","stroke":"#333","strokeWidth":1},"encoding":{"x":{"field":"x0","type":"quantitative","scale":{"domain":[-0.12,1.15],"nice":false,"zero":false},"axis":{"title":["Free play 4","object"],"values":[0,0.5,1],"format":"~g"}},"x2":{"field":"x1"},"y":{"field":"n","type":"quantitative","scale":{"domain":[0,8.1],"nice":false},"axis":null},"y2":{"datum":0}}}
]
}
